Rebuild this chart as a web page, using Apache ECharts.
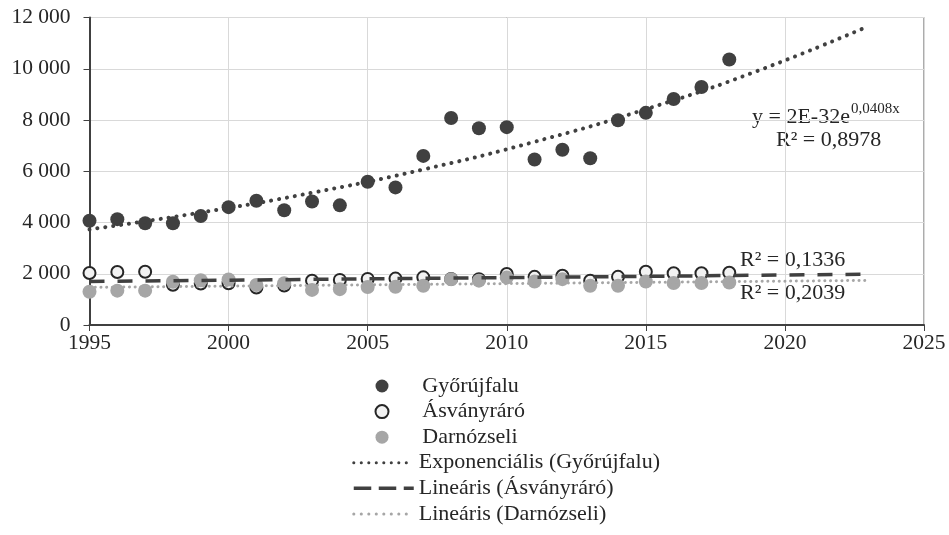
<!DOCTYPE html>
<html>
<head>
<meta charset="utf-8">
<script src="https://cdn.jsdelivr.net/npm/echarts@6/dist/echarts.min.js"></script>
<style>
html,body{margin:0;padding:0;background:#fff;}
#c{width:949px;height:535px;}
</style>
</head>
<body>
<div id="c"></div>
<script>
const years = [1995,1996,1997,1998,1999,2000,2001,2002,2003,2004,2005,2006,2007,2008,2009,2010,2011,2012,2013,2014,2015,2016,2017,2018];
const gyorujfalu = [4070,4130,3970,3970,4250,4600,4850,4480,4820,4670,5590,5370,6600,8080,7680,7720,6460,6840,6510,7990,8280,8820,9290,10360];
const asvanyraro = [2030,2070,2080,1570,1620,1630,1460,1540,1730,1760,1800,1810,1860,1800,1790,1990,1880,1920,1730,1880,2080,2020,2020,2040];
const darnozseli = [1300,1340,1340,1690,1750,1780,1560,1630,1370,1400,1480,1490,1530,1790,1730,1850,1700,1790,1530,1530,1700,1640,1640,1660];

// trend lines
const expTrendYears = [1995,1999,2003,2007,2011,2015,2019,2023];
const expTrendVals  = [3730,4390,5160,6070,7150,8420,9910,11660];
const linAsvYears = [1995,2023];
const linAsvVals  = [1700,1980];
const linDarYears = [1995,2023];
const linDarVals  = [1470,1740];

const seriesNames = ['Győrújfalu','Ásványráró','Darnózseli','Exponenciális (Győrújfalu)','Lineáris (Ásványráró)','Lineáris (Darnózseli)'];
const xTicks = {min:1995,max:2025,interval:5};
const yTicks = {min:0,max:12000,interval:2000};

const FONT = 'Liberation Serif';
const TXT = '#262626';
const DARK = '#404040';
const GRAY = '#a6a6a6';

const pair = (xs, ys) => xs.map((x,i)=>[x, ys[i]]);
const fmt = v => String(v).replace(/\B(?=(\d{3})+(?!\d))/g, ' ');

const legendText = {color:TXT,fontFamily:FONT,fontSize:22,lineHeight:22};

const chart = echarts.init(document.getElementById('c'), null, {renderer:'canvas'});
chart.setOption({
  animation:false,
  backgroundColor:'#fff',
  grid:{left:89.5,right:25,top:17.5,bottom:210,show:true,borderColor:'#595959',borderWidth:1,backgroundColor:'transparent'},
  xAxis:{type:'value',min:xTicks.min,max:xTicks.max,interval:xTicks.interval,
    axisLine:{show:true,onZero:false,lineStyle:{color:DARK,width:2}},
    axisTick:{show:true,length:6,lineStyle:{color:DARK,width:1}},
    axisLabel:{color:TXT,fontFamily:FONT,fontSize:21.5,margin:7,formatter:v=>String(v)},
    splitLine:{show:true,lineStyle:{color:'#d9d9d9',width:1}}
  },
  yAxis:{type:'value',min:yTicks.min,max:yTicks.max,interval:yTicks.interval,
    axisLine:{show:true,onZero:false,lineStyle:{color:DARK,width:2}},
    axisTick:{show:true,length:6,lineStyle:{color:DARK,width:1}},
    axisLabel:{color:TXT,fontFamily:FONT,fontSize:21.5,margin:19,formatter:fmt},
    splitLine:{show:true,lineStyle:{color:'#d9d9d9',width:1}}
  },
  legend:[
    {
      orient:'vertical',left:374.5,top:375,padding:0,itemWidth:49.4,itemHeight:13,itemGap:3.6,
      textStyle:Object.assign({padding:[0,0,0,10.6]},legendText),
      data:seriesNames.slice(0,3)
    },
    {
      orient:'vertical',left:352,top:451.7,padding:0,itemWidth:60,itemHeight:13,itemGap:3.6,
      textStyle:legendText,
      data:[
        {name:seriesNames[3], itemStyle:{opacity:0}, lineStyle:{width:3,type:[0.1,7.4],cap:'round',color:DARK}},
        {name:seriesNames[4], itemStyle:{opacity:0}, lineStyle:{width:3.5,type:[17.5,7.5],color:DARK}},
        {name:seriesNames[5], itemStyle:{opacity:0}, lineStyle:{width:3,type:[0.1,7.4],cap:'round',color:GRAY}}
      ]
    }
  ],
  series:[
    {name:seriesNames[0],type:'scatter',symbol:'circle',symbolSize:14,data:pair(years,gyorujfalu),
      itemStyle:{color:DARK,opacity:1}},
    {name:seriesNames[1],type:'scatter',symbol:'circle',symbolSize:12,data:pair(years,asvanyraro),
      itemStyle:{color:'#f2f2f2',borderColor:'#262626',borderWidth:2,opacity:1}},
    {name:seriesNames[2],type:'scatter',symbol:'circle',symbolSize:14,data:pair(years,darnozseli),
      itemStyle:{color:GRAY,opacity:1}},
    {name:seriesNames[3],type:'line',smooth:true,symbol:'none',showSymbol:false,data:pair(expTrendYears,expTrendVals),
      itemStyle:{color:DARK},lineStyle:{color:DARK,width:4,type:[0.1,7.9],cap:'round'}},
    {name:seriesNames[4],type:'line',symbol:'none',showSymbol:false,data:pair(linAsvYears,linAsvVals),
      itemStyle:{color:DARK},lineStyle:{color:DARK,width:3.5,type:[15,13]}},
    {name:seriesNames[5],type:'line',symbol:'none',showSymbol:false,data:pair(linDarYears,linDarVals),
      itemStyle:{color:GRAY},lineStyle:{color:GRAY,width:3,type:[0.1,5.6],cap:'round'}}
  ],
  graphic:[
    {type:'text',x:752,y:117,style:{text:'y = 2E-32e',font:'22px "Liberation Serif"',fill:TXT,textAlign:'left',textVerticalAlign:'middle'}},
    {type:'text',x:851,y:109,style:{text:'0,0408x',font:'15px "Liberation Serif"',fill:TXT,textAlign:'left',textVerticalAlign:'middle'}},
    {type:'text',x:776,y:140,style:{text:'R² = 0,8978',font:'22px "Liberation Serif"',fill:TXT,textAlign:'left',textVerticalAlign:'middle'}},
    {type:'text',x:740,y:260,style:{text:'R² = 0,1336',font:'22px "Liberation Serif"',fill:TXT,textAlign:'left',textVerticalAlign:'middle'}},
    {type:'text',x:740,y:293,style:{text:'R² = 0,2039',font:'22px "Liberation Serif"',fill:TXT,textAlign:'left',textVerticalAlign:'middle'}}
  ]
});
</script>
</body>
</html>
